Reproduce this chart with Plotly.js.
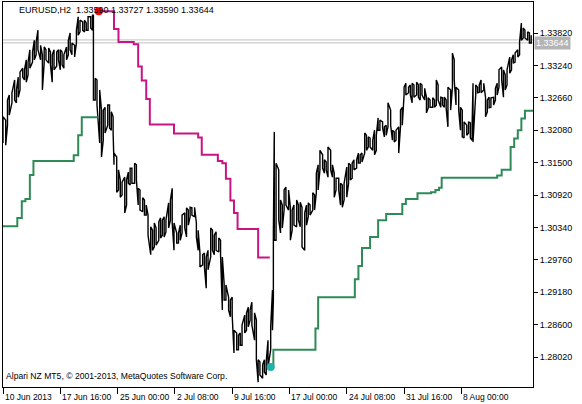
<!DOCTYPE html>
<html><head><meta charset="utf-8">
<script src="https://cdn.plot.ly/plotly-3.0.1.min.js"></script>
<style>html,body{margin:0;padding:0;background:#fff}#chart{width:582px;height:404px}</style>
</head><body><div id="chart"></div>
<script>
// ---- data (bar index, price) ----
const barX = [0,3,5,7,10,13,15,17,19,22,24,26,28,30,33,35,37,39,42,44,46,48,51,53,55,57,60,62,64,66,68,71,73,75,77,80,82,84,86,89,91,93,95,98,100,101,103,105,108,110,112,114,117,119,121,123,124,127,129,131,133,136,138,140,142,144,147,149,151,153,156,158,160,162,165,167,169,171,174,176,178,180,182,185,187,189,191,194,196,198,200,203,205,207,209,211,214,216,218,220,223,225,227,229,232,234,236,238,241,243,245,247,249,252,254,256,258,261,263,265,267,270,272,274,276,278,281,283,285,287,290,292,294,296,299,301,302,303,305,308,310,312,314,316,319,321,323,325,328,330,332,334,337,339,341,343,346,348,350,352,354,357,359,361,363,366,368,370,372,375,377,379,381,384,386,388,390,392,395,397,399,401,404,406,408,410,413,415,417,419,421,424,426,428,430,433,435,437,439,442,444,446,448,450,453,455,457,459,462,464,466,468,471,473,475,477,480,482,484,486,489,491,493,495,497,500,502,504,506,509,511,513,515,518,520,522,524,525,528,530,532,534,537,539,541,543,545,548,550,552,554,557,559,561,563,566,568,570,572,575,577,579,581,583,586,588,590];
const barHigh = [1.3232,1.3226,1.3262,1.3271,1.3275,1.3298,1.3280,1.3303,1.3312,1.3319,1.3316,1.3334,1.3330,1.3352,1.3348,1.3369,1.3366,1.3387,1.3360,1.3343,1.3357,1.3352,1.3355,1.3348,1.3343,1.3352,1.3348,1.3352,1.3352,1.3348,1.3343,1.3357,1.3369,1.3382,1.3364,1.3360,1.3387,1.3411,1.3405,1.3402,1.3405,1.3400,1.3411,1.3411,1.3414,1.3414,1.3301,1.3298,1.3280,1.3244,1.3244,1.3249,1.3253,1.3253,1.3241,1.3232,1.3167,1.3160,1.3137,1.3119,1.3115,1.3124,1.3119,1.3133,1.3140,1.3140,1.3149,1.3146,1.3104,1.3101,1.3087,1.3083,1.3074,1.3056,1.3035,1.3029,1.3042,1.3033,1.3044,1.3051,1.3047,1.3053,1.3047,1.3078,1.3083,1.3104,1.3042,1.3024,1.3024,1.3038,1.3056,1.3060,1.3069,1.3065,1.3070,1.3069,1.3070,1.3042,1.3029,1.2988,1.2985,1.2988,1.2981,1.2993,1.3033,1.3029,1.3020,1.3026,1.3015,1.3011,1.2981,1.2934,1.2931,1.2909,1.2904,1.2909,1.2850,1.2845,1.2841,1.2845,1.2859,1.2877,1.2881,1.2891,1.2886,1.2900,1.2881,1.2868,1.2797,1.2793,1.2788,1.2797,1.2793,1.2832,1.2856,1.2922,1.3024,1.3205,1.3149,1.3137,1.3083,1.3074,1.3101,1.3106,1.3101,1.3070,1.3065,1.3074,1.3083,1.3074,1.3079,1.3070,1.3060,1.3074,1.3078,1.3074,1.3096,1.3092,1.3131,1.3146,1.3172,1.3164,1.3155,1.3151,1.3178,1.3172,1.3146,1.3131,1.3122,1.3122,1.3113,1.3110,1.3113,1.3142,1.3149,1.3146,1.3149,1.3155,1.3155,1.3167,1.3164,1.3167,1.3203,1.3199,1.3196,1.3194,1.3190,1.3208,1.3199,1.3230,1.3226,1.3223,1.3214,1.3217,1.3257,1.3244,1.3208,1.3205,1.3208,1.3214,1.3244,1.3249,1.3285,1.3292,1.3285,1.3289,1.3292,1.3289,1.3294,1.3289,1.3292,1.3289,1.3283,1.3267,1.3266,1.3262,1.3266,1.3262,1.3298,1.3289,1.3267,1.3266,1.3267,1.3262,1.3285,1.3280,1.3346,1.3334,1.3285,1.3280,1.3249,1.3244,1.3223,1.3217,1.3223,1.3221,1.3217,1.3292,1.3289,1.3285,1.3289,1.3298,1.3292,1.3266,1.3262,1.3267,1.3266,1.3267,1.3283,1.3292,1.3316,1.3321,1.3316,1.3307,1.3316,1.3339,1.3334,1.3343,1.3346,1.3352,1.3366,1.3400,1.3391,1.3387,1.3384,1.3382,1.3378];
const barLow = [1.3185,1.3181,1.3217,1.3235,1.3257,1.3262,1.3257,1.3267,1.3280,1.3303,1.3298,1.3294,1.3307,1.3319,1.3330,1.3334,1.3343,1.3352,1.3334,1.3280,1.3328,1.3334,1.3328,1.3325,1.3294,1.3316,1.3323,1.3334,1.3316,1.3325,1.3319,1.3334,1.3343,1.3352,1.3343,1.3339,1.3364,1.3378,1.3384,1.3387,1.3384,1.3387,1.3387,1.3391,1.3387,1.3262,1.3262,1.3253,1.3185,1.3160,1.3190,1.3203,1.3217,1.3212,1.3208,1.3203,1.3146,1.3097,1.3101,1.3088,1.3092,1.3060,1.3074,1.3113,1.3110,1.3113,1.3113,1.3119,1.3074,1.3065,1.3062,1.3056,1.3056,1.3020,1.2985,1.2993,1.2999,1.3002,1.3011,1.3015,1.3020,1.3017,1.3026,1.3033,1.3047,1.3042,1.2993,1.3006,1.3006,1.3011,1.3024,1.3033,1.3017,1.3038,1.3053,1.3056,1.3053,1.3017,1.2993,1.2963,1.2967,1.2963,1.2925,1.2958,1.2981,1.2993,1.2985,1.2993,1.2990,1.2985,1.2886,1.2904,1.2904,1.2886,1.2874,1.2877,1.2809,1.2815,1.2815,1.2823,1.2823,1.2845,1.2850,1.2856,1.2868,1.2859,1.2832,1.2797,1.2757,1.2770,1.2764,1.2775,1.2770,1.2784,1.2815,1.2850,1.2904,1.3011,1.3011,1.3047,1.3024,1.3033,1.3065,1.3074,1.3065,1.3011,1.3029,1.3038,1.3035,1.3047,1.3035,1.2999,1.2993,1.3038,1.3053,1.3056,1.3065,1.3065,1.3096,1.3101,1.3137,1.3140,1.3131,1.3137,1.3124,1.3137,1.3124,1.3088,1.3101,1.3101,1.3074,1.3070,1.3083,1.3088,1.3113,1.3119,1.3122,1.3137,1.3140,1.3149,1.3149,1.3151,1.3167,1.3172,1.3178,1.3178,1.3172,1.3164,1.3172,1.3208,1.3208,1.3212,1.3196,1.3199,1.3214,1.3217,1.3190,1.3187,1.3190,1.3167,1.3214,1.3217,1.3271,1.3271,1.3275,1.3271,1.3257,1.3267,1.3271,1.3267,1.3262,1.3271,1.3262,1.3239,1.3248,1.3249,1.3249,1.3249,1.3253,1.3262,1.3249,1.3253,1.3249,1.3248,1.3214,1.3244,1.3285,1.3298,1.3253,1.3244,1.3208,1.3196,1.3194,1.3199,1.3203,1.3194,1.3190,1.3187,1.3271,1.3275,1.3276,1.3275,1.3280,1.3232,1.3241,1.3248,1.3249,1.3253,1.3262,1.3271,1.3285,1.3298,1.3267,1.3280,1.3289,1.3310,1.3316,1.3328,1.3330,1.3339,1.3343,1.3369,1.3373,1.3373,1.3369,1.3364,1.3364];

const supportAX = [0,16,21,25,30,34,79,84,88,106];
const supportAY = [1.3036,1.3051,1.3081,1.3085,1.3128,1.3153,1.3163,1.3199,1.3231,1.3231];
const resistX = [107,124,129,146,151,155,160,164,191,218,222,240,245,249,254,258,262,285,298];
const resistY = [1.3421,1.3389,1.3366,1.3362,1.3322,1.3297,1.3264,1.3218,1.3202,1.3195,1.3164,1.3153,1.3149,1.3121,1.3082,1.3060,1.3031,1.2980,1.2980];
const supportBX = [299,302,349,352,393,397,401,410,419,428,446,450,463,478,483,487,490,552,557,567,571,575,579,583,592];
const supportBY = [1.2784,1.2815,1.2853,1.2909,1.2941,1.2965,1.2997,1.3017,1.3047,1.3058,1.3076,1.3085,1.3095,1.3097,1.3101,1.3105,1.3123,1.3127,1.3137,1.3178,1.3193,1.3208,1.3229,1.3243,1.3243];

const bidPrice = 1.33644, askPrice = 1.33696;
const xTickBars = [0,64,128,192,256,320,384,448,512];
const xTickText = ['10 Jun 2013','17 Jun 16:00','25 Jun 00:00','2 Jul 08:00','9 Jul 16:00','17 Jul 00:00','24 Jul 08:00','31 Jul 16:00','8 Aug 00:00'];
const yTickVals = [1.28020,1.28600,1.29180,1.29760,1.30340,1.30920,1.31500,1.32080,1.32660,1.33240,1.33820];
const symbolName = 'EURUSD,H2';
const lastOHLC = [1.33590,1.33727,1.33590,1.33644];
const copyrightText = 'Alpari NZ MT5, \u00a9 2001-2013, MetaQuotes Software Corp.';

// ---- build ----
const FAM = 'Liberation Sans, Arial, sans-serif';
const TICKFONT = {family:FAM, size:9, color:'#000'};
const XFONT = {family:FAM, size:8.5, color:'#000'};
const zx = [], zy = [];
barX.forEach((x,i)=>{
  zx.push(x,x);
  if (i%2===0) zy.push(barLow[i],barHigh[i]); else zy.push(barHigh[i],barLow[i]);
});

const traces = [
  {x:zx, y:zy, type:'scatter', mode:'lines', line:{color:'#000', width:1.4}, hoverinfo:'skip'},
  {x:supportAX, y:supportAY, type:'scatter', mode:'lines', line:{color:'#2e8b57', width:2, shape:'hv'}},
  {x:resistX, y:resistY, type:'scatter', mode:'lines', line:{color:'#c71585', width:2, shape:'hv'}},
  {x:supportBX, y:supportBY, type:'scatter', mode:'lines', line:{color:'#2e8b57', width:2, shape:'hv'}},
  {x:[resistX[0]], y:[resistY[0]], type:'scatter', mode:'markers', marker:{color:'#ff0000', size:8}},
  {x:[supportBX[0]], y:[supportBY[0]], type:'scatter', mode:'markers', marker:{color:'#20b2aa', size:8}}
];

const xLabelAnns = xTickBars.map((b,i)=>({
  xref:'x', yref:'paper', x:b, y:0, xanchor:'left', yanchor:'top', yshift:-3, xshift:0,
  showarrow:false, text:xTickText[i], font:XFONT
}));

const layout = {
  width:582, height:404,
  margin:{l:3, r:49, t:2, b:17, pad:0},
  paper_bgcolor:'#fff', plot_bgcolor:'#fff',
  showlegend:false,
  font:TICKFONT,
  xaxis:{range:[0,592], tickvals:xTickBars, showticklabels:false, ticks:'outside', ticklen:6, tickcolor:'#000',
         showline:true, mirror:true, linecolor:'#000', linewidth:1,
         showgrid:false, zeroline:false, fixedrange:true},
  yaxis:{range:[1.27483,1.34375], side:'right', tickvals:yTickVals, ticktext:yTickVals.map(v=>v.toFixed(5)),
         ticks:'outside', ticklen:4, tickcolor:'#000', showline:true, mirror:true, linecolor:'#000', linewidth:1,
         showgrid:false, zeroline:false, tickfont:TICKFONT, fixedrange:true},
  shapes:[
    {type:'line', xref:'paper', x0:0, x1:1, yref:'y', y0:askPrice, y1:askPrice, line:{color:'#c0c0c0', width:1}, layer:'below'},
    {type:'line', xref:'paper', x0:0, x1:1, yref:'y', y0:bidPrice, y1:bidPrice, line:{color:'#c0c0c0', width:1}, layer:'below'}
  ],
  annotations:[
    {xref:'paper', yref:'y', x:1, y:bidPrice, xanchor:'left', yanchor:'middle', xshift:1, showarrow:false,
     text:bidPrice.toFixed(5), bgcolor:'#b4b4b4', font:{family:FAM, size:9, color:'#fff'}, borderpad:1},
    {xref:'paper', yref:'paper', x:14/530, y:(387-10)/385, xanchor:'left', yanchor:'middle', showarrow:false,
     text:symbolName+'&nbsp;&nbsp;'+lastOHLC.map(v=>v.toFixed(5)).join(' '), font:{family:FAM, size:9, color:'#000'}},
    {xref:'paper', yref:'paper', x:0.5/530, y:(387-376)/385, xanchor:'left', yanchor:'middle', showarrow:false,
     text:copyrightText, font:{family:FAM, size:8.6, color:'#000'}}
  ].concat(xLabelAnns)
};
Plotly.newPlot('chart', traces, layout, {displayModeBar:false, staticPlot:true});
</script>
</body></html>
